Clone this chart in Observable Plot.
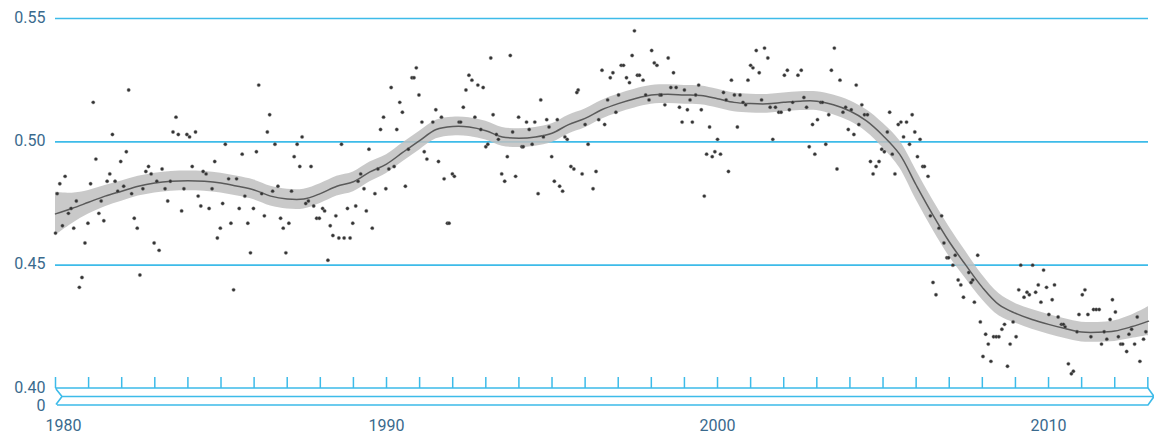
<!DOCTYPE html>
<html>
<head>
<meta charset="utf-8">
<script src="https://cdn.jsdelivr.net/npm/d3@7"></script>
<script src="https://cdn.jsdelivr.net/npm/@observablehq/plot@0.6"></script>
<style>
  html, body { margin: 0; padding: 0; background: #fff; }
</style>
</head>
<body>
<div id="chart"></div>
<script>
// ---- data ----
const scatter = [
  [1981.14,.516],[1982.21,.521],[1981.72,.503],[1983.64,.510],[1983.55,.504],[1983.71,.503],[1983.97,.503],[1984.05,.502],[1984.23,.504],[1986.14,.523],
  [1986.47,.511],[1986.40,.504],[1985.13,.499],[1985.64,.495],[1986.07,.496],[1982.14,.496],[1981.97,.492],[1981.22,.493],[1980.29,.486],[1980.13,.483],
  [1980.05,.479],[1981.64,.487],[1981.56,.484],[1981.80,.484],[1981.06,.483],[1982.73,.488],[1982.81,.490],[1982.89,.487],[1983.22,.489],[1983.06,.484],
  [1983.47,.484],[1983.31,.481],[1984.13,.490],[1984.46,.488],[1984.55,.487],[1984.81,.492],[1982.06,.482],[1981.88,.480],[1982.30,.479],[1982.64,.481],
  [1983.88,.481],[1984.31,.478],[1984.73,.481],[1985.23,.485],[1985.47,.485],[1985.72,.478],[1986.23,.479],[1980.63,.476],[1980.47,.473],[1980.39,.471],
  [1981.38,.476],[1981.31,.471],[1981.46,.468],[1980.98,.467],[1980.55,.465],[1980.21,.466],[1980.00,.463],[1983.39,.476],[1983.81,.472],[1984.39,.474],
  [1984.64,.473],[1985.05,.475],[1985.55,.473],[1985.98,.473],[1986.31,.470],[1982.38,.469],[1982.47,.465],[1982.98,.459],[1983.13,.456],[1980.89,.459],
  [1984.98,.465],[1985.30,.467],[1984.89,.461],[1985.81,.467],[1985.89,.455],[1980.80,.445],[1980.72,.441],[1982.55,.446],[1985.38,.440],
  [1986.63,.499],[1987.45,.502],[1987.30,.499],[1988.64,.499],[1987.21,.494],[1987.38,.490],[1987.72,.490],[1989.47,.497],[1986.72,.482],[1986.56,.480],
  [1987.13,.480],[1986.80,.469],[1986.88,.465],[1987.05,.467],[1986.96,.455],[1987.64,.476],[1987.56,.475],[1987.80,.474],[1987.89,.469],[1987.97,.469],
  [1988.07,.473],[1988.13,.472],[1988.47,.470],[1988.30,.466],[1988.38,.462],[1988.56,.461],[1988.72,.461],[1988.90,.461],[1988.23,.452],[1988.82,.473],
  [1989.07,.474],[1988.98,.467],[1989.39,.472],[1989.57,.465],[1989.22,.487],[1989.14,.484],[1989.32,.481],[1989.65,.479],[1989.74,.489],[1989.98,.481],
  [1990.07,.489],[1990.23,.490],[1990.57,.482],[1989.82,.505],[1989.91,.510],[1990.31,.505],[1990.48,.512],[1990.40,.516],[1990.14,.522],[1990.66,.497],
  [1990.77,.526],[1990.83,.526],[1990.90,.530],[1990.98,.519],[1991.07,.508],[1991.14,.496],[1991.22,.493],[1991.57,.492],[1991.40,.508],[1991.49,.513],
  [1991.66,.510],[1991.74,.485],[1991.99,.487],[1992.05,.486],[1991.84,.467],[1991.89,.467],[1992.19,.508],[1992.24,.508],[1992.32,.514],[1992.67,.510],
  [1992.85,.505],[1993.00,.498],[1993.06,.499],[1992.40,.521],[1992.49,.527],[1992.58,.525],[1992.76,.523],[1992.92,.522],
  [1993.15,.534],[1993.22,.511],[1993.74,.535],[1994.66,.517],[1995.79,.521],[1995.75,.520],[1993.32,.503],[1993.38,.501],[1993.81,.504],[1993.99,.510],
  [1994.23,.508],[1994.31,.505],[1994.48,.508],[1994.84,.509],[1994.91,.506],[1995.16,.509],[1994.74,.502],[1995.39,.502],[1995.46,.501],[1994.09,.498],
  [1994.13,.498],[1994.40,.499],[1994.99,.494],[1996.09,.499],[1993.65,.494],[1993.48,.487],[1993.57,.484],[1993.90,.486],[1994.58,.479],[1995.07,.484],
  [1995.23,.482],[1995.32,.480],[1995.57,.490],[1995.66,.489],[1995.91,.487],[1996.24,.481],[1996.33,.488],[1996.00,.507],[1996.41,.509],[1996.59,.507],
  [1996.68,.517],[1996.93,.512],[1997.01,.519],[1996.51,.529],[1996.76,.526],[1996.84,.528],[1997.09,.531],[1997.16,.531],[1997.25,.526],[1997.34,.524],
  [1997.42,.535],[1997.49,.545],[1997.58,.527],[1997.64,.527],[1997.75,.525],[1997.83,.519],[1997.93,.517],[1998.01,.537],[1998.09,.532],[1998.17,.531],
  [1998.26,.519],[1998.30,.519],[1998.41,.515],[1998.51,.534],[1998.67,.528],[1998.59,.522],[1998.75,.522],[1998.85,.514],[1999.00,.521],[1999.09,.513],
  [1999.17,.517],[1999.34,.519],[1999.43,.523],[1999.51,.513],[1998.93,.508],[1999.24,.508],[1999.76,.506],[1999.67,.495],[1999.84,.494],[1999.60,.478],
  [2000.00,.501],[1999.92,.496],[2000.09,.495],[2000.33,.488],[2000.18,.520],[2000.26,.517],[2000.51,.519],[2000.68,.519],[2000.77,.516],[2000.85,.515],
  [2000.60,.506],[2001.17,.537],[2001.42,.538],[2001.52,.534],[2001.00,.531],[2001.07,.530],[2001.26,.528],[2000.92,.525],[2000.42,.525],[2001.33,.517],
  [2001.59,.514],[2001.75,.514],[2001.85,.512],[2001.92,.512],[2002.17,.513],[2002.27,.516],[2001.67,.501],[2002.02,.527],[2002.11,.529],[2002.43,.527],
  [2002.53,.529],[2002.61,.518],[2002.69,.514],[2002.87,.507],[2003.02,.509],[2002.77,.498],[2002.94,.495],[2003.12,.516],[2003.17,.516],[2003.27,.499],
  [2003.36,.511],[2003.53,.538],[2003.44,.529],[2003.70,.525],[2004.19,.523],[2003.61,.489],[2003.79,.512],[2003.87,.514],[2004.04,.513],[2003.95,.505],
  [2004.12,.503],[2004.27,.507],[2004.36,.515],[2004.44,.511],[2004.53,.511],[2004.62,.492],[2004.70,.487],[2004.79,.490],[2004.88,.492],[2004.96,.497],
  [2005.04,.496],[2005.13,.504],[2005.28,.495],[2005.36,.487],[2005.20,.512],[2005.46,.507],[2005.54,.508],[2005.62,.502],[2005.71,.508],[2005.88,.511],
  [2005.96,.504],[2006.04,.494],[2006.12,.501],[2005.80,.499],[2006.20,.490],[2006.25,.490],[2006.36,.486],
  [2006.43,.470],[2006.77,.470],[2006.51,.443],[2006.60,.438],[2006.69,.465],[2006.84,.459],[2006.93,.453],[2006.98,.453],[2007.11,.450],[2007.18,.454],
  [2007.27,.444],[2007.35,.442],[2007.43,.437],[2007.59,.447],[2007.66,.443],[2007.71,.444],[2007.76,.435],[2007.86,.454],[2007.94,.427],[2008.10,.422],
  [2008.18,.418],[2008.34,.421],[2008.42,.421],[2008.50,.421],[2008.59,.424],[2008.67,.426],[2008.84,.418],[2008.93,.427],[2009.02,.421],[2008.02,.413],
  [2008.26,.411],[2008.76,.409],[2009.10,.440],[2009.16,.450],[2009.26,.437],[2009.35,.439],[2009.42,.438],[2009.52,.450],[2009.61,.439],[2009.69,.442],
  [2009.77,.435],[2009.85,.448],[2009.94,.441],[2010.11,.436],[2010.18,.442],[2010.01,.430],[2010.29,.429],[2010.39,.426],[2010.45,.426],[2010.50,.425],
  [2010.60,.410],[2010.69,.406],[2010.75,.407],[2010.86,.423],[2010.92,.430],[2011.02,.438],[2011.10,.440],[2011.19,.430],[2011.28,.421],[2011.36,.432],
  [2011.44,.432],[2011.53,.432],[2011.60,.418],[2011.68,.423],[2011.76,.420],[2011.86,.428],[2011.93,.436],[2012.02,.431],[2012.11,.421],[2012.18,.418],
  [2012.24,.418],[2012.36,.415],[2012.43,.422],[2012.51,.424],[2012.60,.418],[2012.68,.429],[2012.76,.411],[2012.87,.420],[2012.94,.423]
];

// smoothed trend: [year, value, half-width of the confidence band]
const smooth = [
  [1980,.4708,.0088],[1980.5,.473,.0062],[1981,.4755,.0048],[1981.5,.478,.0043],[1982,.480,.0041],[1982.5,.482,.004],
  [1983,.4833,.004],[1983.5,.484,.004],[1984,.4842,.004],[1984.5,.484,.004],[1985,.4833,.004],[1985.5,.482,.004],
  [1986,.4805,.004],[1986.5,.478,.004],[1987,.4768,.004],[1987.5,.4768,.004],[1988,.479,.004],[1988.5,.482,.004],
  [1989,.4838,.004],[1989.5,.4878,.004],[1990,.491,.0038],[1990.5,.4958,.0038],[1991,.5005,.0038],[1991.5,.505,.0038],
  [1992,.5062,.0038],[1992.5,.506,.0038],[1993,.5045,.0038],[1993.5,.502,.0038],[1994,.5015,.0038],[1994.5,.502,.0038],
  [1995,.5035,.0038],[1995.5,.507,.0038],[1996,.5095,.0038],[1996.5,.513,.0038],[1997,.5155,.0038],[1997.5,.5175,.0038],
  [1998,.519,.0038],[1998.5,.5193,.0038],[1999,.519,.0038],[1999.5,.5188,.0038],[2000,.5175,.0038],[2000.5,.516,.0038],
  [2001,.5155,.0038],[2001.5,.5154,.0038],[2002,.516,.0038],[2002.5,.5165,.0038],[2003,.5165,.0038],[2003.5,.515,.004],
  [2004,.5125,.0042],[2004.5,.5085,.0045],[2005,.5025,.005],[2005.5,.495,.0055],[2006,.4825,.006],[2006.5,.4705,.006],
  [2007,.4595,.006],[2007.5,.450,.0055],[2008,.441,.005],[2008.5,.434,.0045],[2009,.4305,.004],[2009.5,.428,.004],
  [2010,.426,.004],[2010.5,.4243,.004],[2011,.4229,.004],[2011.5,.4228,.004],[2012,.4233,.0042],[2012.5,.425,.0047],
  [2013,.4272,.0058],[2013.02,.4273,.0059]
];

const yTickValues = [0.40, 0.45, 0.50, 0.55];
const gridValues = [0.45, 0.50, 0.55];
const yearTicks = d3.range(1980, 2014);
const xLabelYears = [1990, 2000, 2010];
const firstLabelYear = [1980];
const breakLabel = ["0"];
const xDomain = [1980, 2013.02];
const yDomain = [0.40, 0.55];

// ---- styles ----
const blue = "#3dbbe9";
const labelColor = "#3a6a8d";

// axis-break ribbon under the 0.40 baseline
function breakDecor(index, scales, values, dimensions) {
  const x0 = scales.x(xDomain[0]);
  const xe = dimensions.width - dimensions.marginRight;
  const yT = scales.y(yDomain[0]);
  const yM = yT + 8.5, yB = yT + 17;
  const g = d3.create("svg:g")
    .attr("fill", "none")
    .attr("stroke", blue)
    .attr("stroke-width", 1.6)
    .attr("stroke-linejoin", "miter");
  g.append("path").attr("d",
    `M${x0},${yT}H${xe}L${xe + 6},${yM}L${xe},${yB}H${x0 + 2}` +
    `M${x0 + 1},${yT + 1}L${x0 + 7},${yM}L${x0 + 1},${yB - 0.5}` +
    `M${x0 + 7},${yM}H${xe + 5}`);
  return g.node();
}

const chart = Plot.plot({
  width: 1154,
  height: 435,
  marginLeft: 55,
  marginRight: 6,
  marginTop: 18,
  marginBottom: 47,
  x: {domain: xDomain},
  y: {domain: yDomain},
  style: {fontFamily: "Roboto, 'DejaVu Sans', sans-serif", fontSize: "16px", color: labelColor, background: "#fff", overflow: "visible"},
  marks: [
    Plot.ruleY(gridValues, {stroke: blue, strokeWidth: 1.7}),
    breakDecor,
    Plot.ruleX(yearTicks, {y1: yDomain[0], y2: yDomain[0], insetTop: -11, stroke: blue, strokeWidth: 1.5}),
    Plot.axisY({ticks: yTickValues, tickSize: 0, tickPadding: 10, tickFormat: d3.format(".2f"), label: null, fill: labelColor, dy: -1}),
    Plot.text(breakLabel, {frameAnchor: "left", y: () => yDomain[0], text: d => d, dy: 17, dx: -10, textAnchor: "end", fill: labelColor}),
    Plot.axisX({ticks: xLabelYears, tickSize: 0, tickPadding: 31, tickFormat: d => String(d), label: null, fill: labelColor}),
    Plot.axisX({ticks: firstLabelYear, tickSize: 0, tickPadding: 31, tickFormat: d => String(d), label: null, fill: labelColor, dx: 8}),
    Plot.areaY(smooth, {x: d => d[0], y1: d => d[1] - d[2], y2: d => d[1] + d[2], fill: "#bfbfbf", fillOpacity: 0.85, curve: "catmull-rom"}),
    Plot.line(smooth, {x: d => d[0], y: d => d[1], stroke: "#5a5a5a", strokeWidth: 1.5, curve: "catmull-rom"}),
    Plot.dot(scatter, {x: d => d[0], y: d => d[1], r: 1.7, fill: "#333", stroke: "#888", strokeWidth: 0.8, strokeOpacity: 0.5})
  ]
});
document.getElementById("chart").appendChild(chart);
</script>
</body>
</html>
